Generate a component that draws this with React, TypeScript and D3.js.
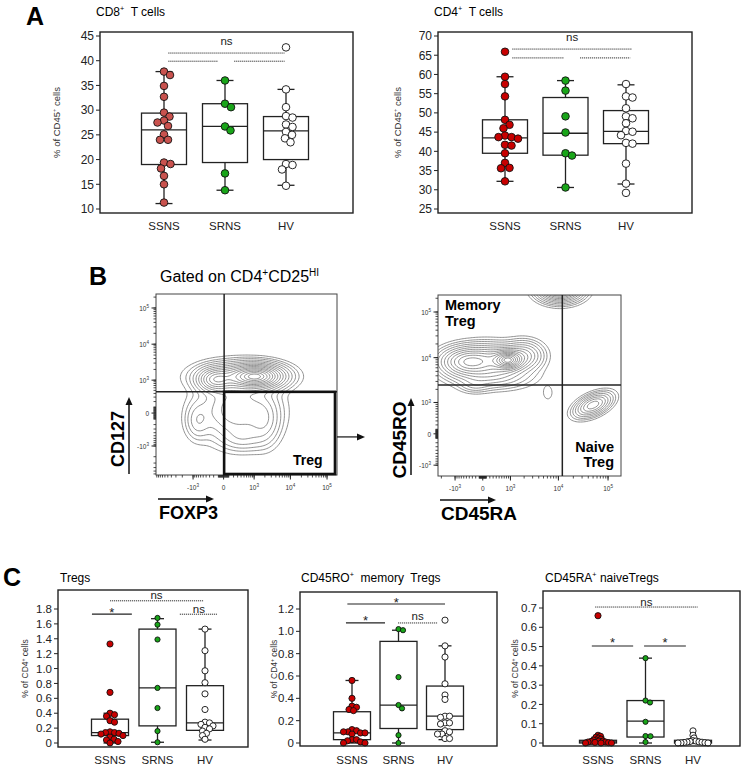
import React, { useMemo } from "react";
import * as d3 from "d3";

const FONT = "'Liberation Sans', Arial, Helvetica, sans-serif";
const groups = ["SSNS", "SRNS", "HV"];

// ---------- Panel A: CD8+ T cells (% of CD45+ cells)
const cd8SSNS = [37.8, 37.1, 34.9, 32.7, 29.5, 28.7, 27.9, 27.5, 26.8, 25.1, 24.0, 24.0, 19.4, 19.1, 18.2, 16.7, 15.0, 11.3];
const cd8SRNS = [36.0, 31.3, 30.6, 26.7, 25.9, 17.2, 13.8];
const cd8HV = [42.7, 34.2, 30.6, 28.8, 28.5, 27.1, 26.6, 25.6, 25.0, 24.3, 23.5, 19.1, 18.9, 18.0, 14.7];
const cd8Q1 = [19.0, 19.4, 20.0];
const cd8Median = [26.0, 26.7, 25.8];
const cd8Q3 = [29.4, 31.3, 28.7];
const cd8Low = [11.1, 13.8, 14.8];
const cd8High = [37.8, 36.0, 34.2];
const cd8Ticks = [10, 15, 20, 25, 30, 35, 40, 45];

// ---------- Panel A: CD4+ T cells
const cd4SSNS = [65.9, 59.4, 57.5, 54.3, 48.2, 46.9, 46.0, 44.1, 43.7, 43.7, 43.3, 41.7, 41.5, 39.5, 37.0, 35.7, 35.6, 32.2];
const cd4SRNS = [58.4, 55.8, 49.1, 44.9, 39.5, 38.9, 30.6];
const cd4HV = [57.5, 54.3, 54.0, 51.2, 49.1, 48.6, 47.3, 45.3, 45.1, 44.2, 42.2, 42.0, 36.8, 31.6, 29.2];
const cd4Q1 = [39.5, 39.0, 42.0];
const cd4Median = [43.5, 44.7, 45.2];
const cd4Q3 = [48.2, 54.0, 50.6];
const cd4Low = [32.2, 30.6, 31.5];
const cd4High = [59.4, 58.4, 57.3];
const cd4Ticks = [25, 30, 35, 40, 45, 50, 55, 60, 65, 70];

// ---------- Panel C: Tregs (% of CD4+ cells)
const tregSSNS = [1.33, 0.68, 0.40, 0.38, 0.36, 0.30, 0.28, 0.15, 0.14, 0.14, 0.13, 0.12, 0.10, 0.08, 0.05, 0.04, 0.02, 0.0];
const tregSRNS = [1.68, 1.59, 1.39, 0.74, 0.47, 0.16, 0.01];
const tregHV = [1.53, 1.24, 0.97, 0.81, 0.66, 0.45, 0.28, 0.27, 0.25, 0.23, 0.21, 0.19, 0.16, 0.13, 0.10, 0.05];
const tregQ1 = [0.10, 0.23, 0.17];
const tregMedian = [0.14, 0.74, 0.27];
const tregQ3 = [0.32, 1.53, 0.77];
const tregLow = [0.0, 0.01, 0.04];
const tregHigh = [0.40, 1.67, 1.53];
const tregTicks = [0, 0.2, 0.4, 0.6, 0.8, 1.0, 1.2, 1.4, 1.6, 1.8];

// ---------- Panel C: CD45RO+ memory Tregs
const memSSNS = [0.56, 0.40, 0.33, 0.32, 0.30, 0.29, 0.12, 0.11, 0.10, 0.10, 0.09, 0.09, 0.08, 0.03, 0.03, 0.02, 0.01, 0.0, 0.0];
const memSRNS = [1.02, 1.01, 0.59, 0.34, 0.31, 0.07, 0.0];
const memHV = [1.10, 0.87, 0.77, 0.53, 0.43, 0.39, 0.24, 0.24, 0.23, 0.18, 0.18, 0.17, 0.11, 0.10, 0.08, 0.08, 0.04, 0.04];
const memQ1 = [0.03, 0.13, 0.12];
const memMedian = [0.09, 0.34, 0.24];
const memQ3 = [0.28, 0.91, 0.51];
const memLow = [0.0, 0.0, 0.03];
const memHigh = [0.56, 1.01, 0.87];
const memTicks = [0, 0.2, 0.4, 0.6, 0.8, 1.0, 1.2];

// ---------- Panel C: CD45RA+ naive Tregs
const naiveSSNS = [0.66, 0.04, 0.035, 0.03, 0.025, 0.02, 0.015, 0.015, 0.01, 0.01, 0.008, 0.005, 0.005, 0.003, 0.002, 0.0, 0.0, 0.0];
const naiveSRNS = [0.44, 0.22, 0.21, 0.11, 0.036, 0.035, 0.005];
const naiveHV = [0.063, 0.04, 0.026, 0.012, 0.01, 0.008, 0.006, 0.005, 0.004, 0.003, 0.002, 0.001, 0.0, 0.0];
const naiveQ1 = [0.0, 0.031, 0.0];
const naiveMedian = [0.006, 0.113, 0.006];
const naiveQ3 = [0.014, 0.22, 0.014];
const naiveLow = [0.0, 0.0, 0.0];
const naiveHigh = [0.03, 0.44, 0.02];
const naiveTicks = [0, 0.1, 0.2, 0.3, 0.4, 0.5, 0.6, 0.7];

// ---------- Significance annotations (a, b: category index span; y: value)
const cd8Sigs = [
  { a: 0.07, b: 1.98, y: 41.55, label: "ns", dotted: true, dy: -8 },
  { a: 0.07, b: 0.89, y: 39.9, label: "", dotted: true, dy: 0 },
  { a: 1.15, b: 1.98, y: 39.9, label: "", dotted: true, dy: 0 },
];
const cd4Sigs = [
  { a: 0.12, b: 2.1, y: 66.6, label: "ns", dotted: true, dy: -8 },
  { a: 0.12, b: 0.97, y: 64.3, label: "", dotted: true, dy: 0 },
  { a: 1.24, b: 2.07, y: 64.3, label: "", dotted: true, dy: 0 },
];
const tregSigs = [
  { a: -0.38, b: 0.46, y: 1.73, label: "*", dotted: false, dy: 3 },
  { a: 0.0, b: 1.96, y: 1.91, label: "ns", dotted: true, dy: -1.5 },
  { a: 1.47, b: 2.27, y: 1.73, label: "ns", dotted: true, dy: -1.5 },
];
const memSigs = [
  { a: -0.1, b: 2.0, y: 1.245, label: "*", dotted: false, dy: 3 },
  { a: -0.13, b: 0.71, y: 1.075, label: "*", dotted: false, dy: 2 },
  { a: 0.99, b: 1.83, y: 1.075, label: "ns", dotted: true, dy: -3 },
];
const naiveSigs = [
  { a: -0.06, b: 2.1, y: 0.705, label: "ns", dotted: true, dy: -1.5 },
  { a: -0.13, b: 0.74, y: 0.503, label: "*", dotted: false, dy: 1 },
  { a: 0.97, b: 1.85, y: 0.503, label: "*", dotted: false, dy: 1 },
];

// ---------- Panel B: flow density components (fractions of plot area: u from left, v from bottom)
const foxpBlobU = [0.558, 0.326, 0.46, 0.45, 0.23, 0.6, 0.48];
const foxpBlobV = [0.545, 0.525, 0.545, 0.36, 0.3, 0.3, 0.2];
const foxpBlobSu = [0.085, 0.055, 0.13, 0.12, 0.04, 0.05, 0.07];
const foxpBlobSv = [0.037, 0.037, 0.045, 0.1, 0.06, 0.08, 0.04];
const foxpBlobW = [1.0, 0.5, 0.4, 0.3, 0.12, 0.15, 0.08];
const foxpBlobAngle = [0, 0, 0, 0, 0, 0, 0];

const raBlobU = [0.383, 0.15, 0.28, 0.47, 0.3, 0.2, 0.667, 0.847, 0.6];
const raBlobV = [0.64, 0.63, 0.64, 0.665, 0.55, 0.5, 1.04, 0.392, 0.46];
const raBlobSu = [0.045, 0.08, 0.1, 0.06, 0.12, 0.05, 0.065, 0.06, 0.02];
const raBlobSv = [0.03, 0.045, 0.05, 0.045, 0.04, 0.025, 0.04, 0.03, 0.03];
const raBlobW = [1.0, 0.6, 0.5, 0.35, 0.2, 0.08, 1.3, 0.5, 0.04];
const raBlobAngle = [0, 0, 0, 0, 0, 0, 0, 25, 0];

const contourLevels = [0.015, 0.03, 0.05, 0.08, 0.12, 0.17, 0.23, 0.3, 0.38, 0.47, 0.56, 0.66, 0.76, 0.86, 0.94];
const flowMajorTicks = [-1000, 0, 1000, 10000, 100000];

// ---------- Colours
const redMuted = "#c9524e";
const red = "#c80000";
const green = "#19a519";
const white = "#ffffff";

function beeswarm(values: number[], y: (v: number) => number, minDist: number) {
  const pts = values.map((v, i) => ({ v, i, py: y(v), dx: 0 }));
  const order = [...pts].sort((a, b) => a.py - b.py);
  const placed: { x: number; y: number }[] = [];
  for (const p of order) {
    let best = 0;
    for (let k = 0; k < 400; k++) {
      const cand = k === 0 ? 0 : (k % 2 === 1 ? 1 : -1) * Math.ceil(k / 2) * 0.5;
      if (placed.every((q) => Math.hypot(q.x - cand, q.y - p.py) >= minDist)) {
        best = cand;
        break;
      }
    }
    p.dx = best;
    placed.push({ x: best, y: p.py });
  }
  return pts;
}

type Sig = { a: number; b: number; y: number; label: string; dotted: boolean; dy: number };

function BoxPanel(p: any) {
  const y = d3.scaleLinear().domain(p.yDomain).range(p.yRange);
  const x = d3.scalePoint<string>().domain(groups).range(p.cats);
  const step = x.step();
  const xi = (t: number) => p.cats[0] + t * step;
  const [L, T, R, B] = p.frame;
  const hw = p.boxW / 2;
  const cw = p.capW / 2;
  return (
    <g>
      <text x={p.titleX} y={p.titleY} fontSize={p.titleSize} style={{ whiteSpace: "pre" }}>
        {p.title}
      </text>
      <text
        transform={`translate(${p.ylabelX},${(T + B) / 2}) rotate(-90)`}
        textAnchor="middle"
        fontSize={p.ylabelSize}
        fill="#333"
      >
        {p.ylabel}
      </text>
      {p.ticks.map((t: number) => (
        <g key={t}>
          <line x1={L - 4} x2={L} y1={y(t)} y2={y(t)} stroke="#222" strokeWidth={1} />
          <text x={L - 6} y={y(t)} dy="0.36em" textAnchor="end" fontSize={p.tickSize} fill="#222">
            {p.fmt(t)}
          </text>
        </g>
      ))}
      {groups.map((g, gi) => {
        const cx = x(g)!;
        return (
          <g key={g} stroke="#222" strokeWidth={1.3}>
            <line x1={cx} x2={cx} y1={y(p.q3[gi])} y2={y(p.hi[gi])} />
            <line x1={cx} x2={cx} y1={y(p.q1[gi])} y2={y(p.lo[gi])} />
            <line x1={cx - cw} x2={cx + cw} y1={y(p.hi[gi])} y2={y(p.hi[gi])} />
            <line x1={cx - cw} x2={cx + cw} y1={y(p.lo[gi])} y2={y(p.lo[gi])} />
            <rect x={cx - hw} y={y(p.q3[gi])} width={p.boxW} height={Math.max(1, y(p.q1[gi]) - y(p.q3[gi]))} fill="#fff" />
            <line x1={cx - hw} x2={cx + hw} y1={y(p.med[gi])} y2={y(p.med[gi])} />
          </g>
        );
      })}
      {groups.map((g, gi) => {
        const cx = x(g)!;
        const pts = beeswarm(p.series[gi], y, p.minDist[gi]);
        return (
          <g key={g}>
            {pts.map((pt) => (
              <circle
                key={pt.i}
                cx={cx + pt.dx}
                cy={pt.py}
                r={p.radius[gi]}
                fill={p.colors[gi]}
                stroke="#111"
                strokeWidth={0.9}
              />
            ))}
          </g>
        );
      })}
      <rect x={L} y={T} width={R - L} height={B - T} fill="none" stroke="#222" strokeWidth={1.4} />
      {p.sigs.map((s: Sig, k: number) => (
        <g key={k}>
          <line
            x1={xi(s.a)}
            x2={xi(s.b)}
            y1={y(s.y)}
            y2={y(s.y)}
            stroke={s.dotted ? "#333" : "#222"}
            strokeWidth={s.dotted ? 1 : 1.2}
            strokeDasharray={s.dotted ? "1.2,0.8" : undefined}
          />
          {s.label && (
            <text
              x={(xi(s.a) + xi(s.b)) / 2}
              y={y(s.y) + s.dy}
              textAnchor="middle"
              fontSize={s.label === "*" ? 13 : p.sigSize}
              fill="#222"
            >
              {s.label}
            </text>
          )}
        </g>
      ))}
      {groups.map((g) => (
        <text key={g} x={x(g)!} y={p.catY} textAnchor="middle" fontSize={p.catSize} fill="#222">
          {g}
        </text>
      ))}
    </g>
  );
}

function densityGrid(U: number[], V: number[], Su: number[], Sv: number[], W: number[], A: number[], n: number, u0: number, u1: number, v0: number, v1: number) {
  const vals = new Array(n * n).fill(0);
  let max = 0;
  for (let j = 0; j < n; j++) {
    const v = v1 - ((j + 0.5) / n) * (v1 - v0);
    for (let i = 0; i < n; i++) {
      const u = u0 + ((i + 0.5) / n) * (u1 - u0);
      let s = 0;
      for (let k = 0; k < U.length; k++) {
        const a = (A[k] * Math.PI) / 180;
        const du = u - U[k];
        const dv = v - V[k];
        const ru = du * Math.cos(a) + dv * Math.sin(a);
        const rv = -du * Math.sin(a) + dv * Math.cos(a);
        s += W[k] * Math.exp(-0.5 * ((ru / Su[k]) ** 2 + (rv / Sv[k]) ** 2));
      }
      vals[j * n + i] = s;
      if (s > max) max = s;
    }
  }
  return { vals, max };
}

function Sup({ base, sup, size }: { base: string; sup: string; size: number }) {
  return (
    <>
      <tspan>{base}</tspan>
      <tspan dy={-size * 0.45} fontSize={size * 0.7}>
        {sup}
      </tspan>
    </>
  );
}

function tickLabel(v: number, size: number) {
  if (v === 0) return <tspan>0</tspan>;
  const e = Math.round(Math.log10(Math.abs(v)));
  return <Sup base={(v < 0 ? "-" : "") + "10"} sup={String(e)} size={size} />;
}

function FlowPlot(p: any) {
  const { left, top, width, height } = p;
  const xs = d3.scaleLinear().domain(p.xDom).range([left, left + width]);
  const ys = d3.scaleLinear().domain(p.yDom).range([top + height, top]);
  const X = (v: number) => xs(Math.asinh(v / p.wx));
  const Y = (v: number) => ys(Math.asinh(v / p.wy));
  const n = 150;
  const u0 = -0.1, u1 = 1.15, v0 = -0.1, v1 = 1.15;
  const paths = useMemo(() => {
    const { vals, max } = densityGrid(p.bu, p.bv, p.bsu, p.bsv, p.bw, p.ba, n, u0, u1, v0, v1);
    const cs = d3.contours().size([n, n]).thresholds(contourLevels.map((l) => l * max))(vals);
    const sx = ((u1 - u0) / n) * width;
    const sy = ((v1 - v0) / n) * height;
    const ox = left + u0 * width;
    const oy = top + (1 - v1) * height;
    const line = (ring: number[][]) =>
      "M" + ring.map(([gx, gy]) => `${(ox + gx * sx).toFixed(2)},${(oy + gy * sy).toFixed(2)}`).join("L") + "Z";
    return cs.map((c) => c.coordinates.map((poly) => poly.map(line).join("")).join(""));
  }, []);
  const minor: number[] = [];
  for (const dec of [10, 100, 1000, 10000, 100000]) {
    for (let k = 1; k <= 9; k++) {
      minor.push(k * dec, -k * dec);
    }
  }
  const xMinor = minor.filter((v) => X(v) >= left && X(v) <= left + width);
  const yMinor = minor.filter((v) => Y(v) >= top && Y(v) <= top + height);
  const clipId = p.id + "-clip";
  const ts = 6.5;
  const midY = (Y(p.gateY) + Y(p.tregY0 ?? 0)) / 2 + 4;
  return (
    <g>
      <defs>
        <clipPath id={clipId}>
          <rect x={left} y={top} width={width} height={height} />
        </clipPath>
      </defs>
      <g clipPath={`url(#${clipId})`}>
        {paths.map((d, i) => (
          <path key={i} d={d} fill="none" stroke="#6d6d6d" strokeWidth={0.75} />
        ))}
      </g>
      <rect x={left} y={top} width={width} height={height} fill="none" stroke="#444" strokeWidth={1} />
      {xMinor.map((v, i) => (
        <line key={"xm" + i} x1={X(v)} x2={X(v)} y1={top + height} y2={top + height + 2.5} stroke="#222" strokeWidth={0.8} />
      ))}
      {yMinor.map((v, i) => (
        <line key={"ym" + i} x1={left - 2.5} x2={left} y1={Y(v)} y2={Y(v)} stroke="#222" strokeWidth={0.8} />
      ))}
      {flowMajorTicks.map((v) => (
        <g key={"x" + v}>
          <line x1={X(v)} x2={X(v)} y1={top + height} y2={top + height + 4.5} stroke="#222" strokeWidth={1} />
          <text x={X(v)} y={top + height + 15} textAnchor="middle" fontSize={ts} fill="#333">
            {tickLabel(v, ts)}
          </text>
        </g>
      ))}
      {flowMajorTicks.map((v) => (
        <g key={"y" + v}>
          <line x1={left - 4.5} x2={left} y1={Y(v)} y2={Y(v)} stroke="#222" strokeWidth={1} />
          <text x={left - 7} y={Y(v) + 3} textAnchor="end" fontSize={ts} fill="#333">
            {tickLabel(v, ts)}
          </text>
        </g>
      ))}
      <line x1={X(p.gateX)} x2={X(p.gateX)} y1={top} y2={top + height} stroke="#222" strokeWidth={1.5} />
      <line x1={left} x2={left + width} y1={Y(p.gateY)} y2={Y(p.gateY)} stroke="#222" strokeWidth={1.5} />
      {p.treg && (
        <g>
          <rect
            x={X(p.gateX)}
            y={Y(p.gateY)}
            width={X(p.tregX1) - X(p.gateX)}
            height={Y(p.tregY0) - Y(p.gateY)}
            fill="none"
            stroke="#111"
            strokeWidth={2.6}
          />
          <text x={X(p.tregX1) - 42} y={Y(p.tregY0) - 9} fontSize={14} fontWeight="bold">
            Treg
          </text>
          <line x1={X(p.tregX1) + 2} x2={X(p.tregX1) + 24} y1={midY} y2={midY} stroke="#111" strokeWidth={1.2} />
          <path d={`M${X(p.tregX1) + 30},${midY} l-8,-3.5 l0,7 z`} fill="#111" />
        </g>
      )}
      {/* axis names */}
      <line x1={p.yArrowX} x2={p.yArrowX} y1={top + height - 1} y2={top + height - 72} stroke="#111" strokeWidth={1.5} />
      <path d={`M${p.yArrowX},${top + height - 78} l-3.5,8 l7,0 z`} fill="#111" />
      <text
        transform={`translate(${p.yArrowX - 5},${top + height - 36}) rotate(-90)`}
        textAnchor="middle"
        fontSize={p.nameSize}
        fontWeight="bold"
      >
        {p.yName}
      </text>
      <line x1={left + 2} x2={left + 52} y1={top + height + 24} y2={top + height + 24} stroke="#111" strokeWidth={1.5} />
      <path d={`M${left + 58},${top + height + 24} l-8,-3.5 l0,7 z`} fill="#111" />
      <text x={left + 3} y={top + height + 44} fontSize={p.nameSize} fontWeight="bold">
        {p.xName}
      </text>
    </g>
  );
}

const fmtDec = (d: number) => (d === 0 ? "0" : d3.format(".1f")(d));

const supLabel = (base: string, rest: string, size: number) => (
  <>
    <tspan>{base}</tspan>
    <tspan dy={-size * 0.4} fontSize={size * 0.6}>+</tspan>
    <tspan dy={size * 0.4}>{rest}</tspan>
  </>
);

export default function App() {
  return (
    <svg
      width={745}
      height={770}
      style={{ position: "absolute", left: 0, top: 0, background: "#fff" }}
      fontFamily={FONT}
    >
      <rect width={745} height={770} fill="#fff" />
      {/* ---------------- A ---------------- */}
      <text x={26} y={25} fontSize={25} fontWeight="bold">
        A
      </text>
      <BoxPanel
        frame={[100, 32, 353, 213]}
        cats={[164, 286]}
        yDomain={[10, 45]}
        yRange={[209, 36]}
        ticks={cd8Ticks}
        fmt={(d: number) => String(d)}
        series={[cd8SSNS, cd8SRNS, cd8HV]}
        colors={[redMuted, green, white]}
        radius={[3.8, 3.8, 3.8]}
        minDist={[6.5, 6.5, 6.5]}
        q1={cd8Q1}
        med={cd8Median}
        q3={cd8Q3}
        lo={cd8Low}
        hi={cd8High}
        boxW={45}
        capW={17}
        title={supLabel("CD8", "  T cells", 12)}
        titleX={96}
        titleY={16}
        titleSize={12}
        ylabel={supLabel("% of CD45", " cells", 9.5)}
        ylabelX={60}
        ylabelSize={9.5}
        tickSize={12}
        sigs={cd8Sigs}
        sigSize={11.5}
        catY={230}
        catSize={11.5}
      />
      <BoxPanel
        frame={[438, 32, 692, 213]}
        cats={[505, 626]}
        yDomain={[25, 70]}
        yRange={[209, 36]}
        ticks={cd4Ticks}
        fmt={(d: number) => String(d)}
        series={[cd4SSNS, cd4SRNS, cd4HV]}
        colors={[red, green, white]}
        radius={[3.8, 3.8, 3.8]}
        minDist={[6.5, 6.5, 6.5]}
        q1={cd4Q1}
        med={cd4Median}
        q3={cd4Q3}
        lo={cd4Low}
        hi={cd4High}
        boxW={45}
        capW={17}
        title={supLabel("CD4", "  T cells", 12)}
        titleX={434}
        titleY={16}
        titleSize={12}
        ylabel={supLabel("% of CD45", " cells", 9.5)}
        ylabelX={401}
        ylabelSize={9.5}
        tickSize={12}
        sigs={cd4Sigs}
        sigSize={11.5}
        catY={230}
        catSize={11.5}
      />

      {/* ---------------- B ---------------- */}
      <text x={89} y={285} fontSize={25} fontWeight="bold">
        B
      </text>
      <text x={160} y={282} fontSize={16}>
        <tspan>Gated on CD4</tspan>
        <tspan dy={-6} fontSize={10}>+</tspan>
        <tspan dy={6}>CD25</tspan>
        <tspan dy={-6} fontSize={10}>HI</tspan>
      </text>
      <FlowPlot
        id="foxp3"
        left={156}
        top={294}
        width={181}
        height={181}
        wx={300}
        wy={250}
        xDom={[-4.25, 7.13]}
        yDom={[-3.94, 7.575]}
        bu={foxpBlobU}
        bv={foxpBlobV}
        bsu={foxpBlobSu}
        bsv={foxpBlobSv}
        bw={foxpBlobW}
        ba={foxpBlobAngle}
        gateX={10}
        gateY={450}
        treg={true}
        tregX1={165000}
        tregY0={-6030}
        yArrowX={129}
        yName="CD127"
        xName="FOXP3"
        nameSize={18}
      />
      <FlowPlot
        id="cd45"
        left={438}
        top={295}
        width={183}
        height={181}
        wx={600}
        wy={430}
        xDom={[-2.075, 6.41]}
        yDom={[-2.127, 7.0]}
        bu={raBlobU}
        bv={raBlobV}
        bsu={raBlobSu}
        bsv={raBlobSv}
        bw={raBlobW}
        ba={raBlobAngle}
        gateX={12000}
        gateY={2500}
        treg={false}
        yArrowX={411}
        yName="CD45RO"
        xName="CD45RA"
        nameSize={19}
      />
      <text fontSize={14.5} fontWeight="bold">
        <tspan x={445} y={310}>Memory</tspan>
        <tspan x={445} y={326}>Treg</tspan>
      </text>
      <text fontSize={14.5} fontWeight="bold" textAnchor="end">
        <tspan x={614} y={452}>Naive</tspan>
        <tspan x={614} y={467}>Treg</tspan>
      </text>

      {/* ---------------- C ---------------- */}
      <text x={3} y={586} fontSize={25} fontWeight="bold">
        C
      </text>
      <BoxPanel
        frame={[58, 590, 248, 747]}
        cats={[110, 205]}
        yDomain={[0, 1.8]}
        yRange={[743, 609]}
        ticks={tregTicks}
        fmt={fmtDec}
        series={[tregSSNS, tregSRNS, tregHV]}
        colors={[red, green, white]}
        radius={[3.1, 2.6, 3.1]}
        minDist={[4.4, 4.6, 4.4]}
        q1={tregQ1}
        med={tregMedian}
        q3={tregQ3}
        lo={tregLow}
        hi={tregHigh}
        boxW={37}
        capW={13}
        title="Tregs"
        titleX={60}
        titleY={582}
        titleSize={12}
        ylabel={supLabel("% of CD4", " cells", 8.5)}
        ylabelX={28}
        ylabelSize={8.5}
        tickSize={11.5}
        sigs={tregSigs}
        sigSize={11.5}
        catY={764}
        catSize={11.5}
      />
      <BoxPanel
        frame={[300, 592, 497, 746]}
        cats={[352, 445]}
        yDomain={[0, 1.2]}
        yRange={[743, 609]}
        ticks={memTicks}
        fmt={fmtDec}
        series={[memSSNS, memSRNS, memHV]}
        colors={[red, green, white]}
        radius={[3.1, 2.6, 3.1]}
        minDist={[4.2, 4.6, 4.4]}
        q1={memQ1}
        med={memMedian}
        q3={memQ3}
        lo={memLow}
        hi={memHigh}
        boxW={37}
        capW={13}
        title={supLabel("CD45RO", "  memory  Tregs", 12)}
        titleX={301}
        titleY={582}
        titleSize={12}
        ylabel={supLabel("% of CD4", " cells", 8.5)}
        ylabelX={277}
        ylabelSize={8.5}
        tickSize={11.5}
        sigs={memSigs}
        sigSize={11.5}
        catY={764}
        catSize={11.5}
      />
      <BoxPanel
        frame={[543, 591, 740, 746]}
        cats={[598, 693]}
        yDomain={[0, 0.7]}
        yRange={[743, 608]}
        ticks={naiveTicks}
        fmt={fmtDec}
        series={[naiveSSNS, naiveSRNS, naiveHV]}
        colors={[red, green, white]}
        radius={[3.1, 2.6, 3.1]}
        minDist={[2.6, 4.6, 2.8]}
        q1={naiveQ1}
        med={naiveMedian}
        q3={naiveQ3}
        lo={naiveLow}
        hi={naiveHigh}
        boxW={37}
        capW={13}
        title={supLabel("CD45RA", " naiveTregs", 12)}
        titleX={545}
        titleY={582}
        titleSize={12}
        ylabel={supLabel("% of CD4", " cells", 8.5)}
        ylabelX={518}
        ylabelSize={8.5}
        tickSize={11.5}
        sigs={naiveSigs}
        sigSize={11.5}
        catY={764}
        catSize={11.5}
      />
    </svg>
  );
}
